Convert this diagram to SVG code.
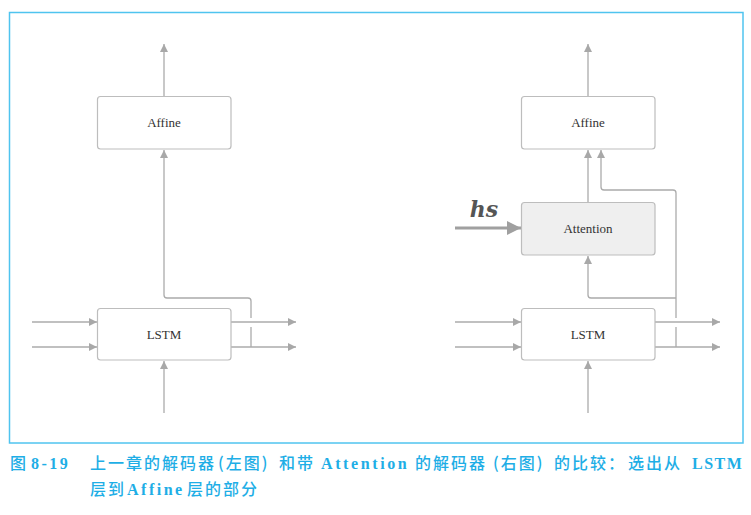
<svg xmlns="http://www.w3.org/2000/svg" width="751" height="515" viewBox="0 0 751 515">
<style>
.box{fill:#fff;stroke:#bdbdbd;stroke-width:1.2}
.att{fill:#efefef;stroke:#bdbdbd;stroke-width:1.2}
.lbl{font-family:'Liberation Serif','DejaVu Serif',serif;font-size:13px;fill:#333;text-anchor:middle}
.c{fill:none;stroke:#ababab;stroke-width:1.3}
.cap{fill:#1eaee6;font-size:16px}
.zh{font-family:'Noto Sans CJK SC','Noto Sans',sans-serif;font-weight:500;letter-spacing:2px}
.la{font-family:'Liberation Serif','DejaVu Serif',serif;font-weight:bold}
</style>
<defs>
<marker id="ar" viewBox="0 0 10 10" refX="10" refY="5" markerWidth="9" markerHeight="8" markerUnits="userSpaceOnUse" orient="auto">
<path d="M0,0 L10,5 L0,10 z" fill="#a8a8a8"/>
</marker>
<marker id="big" viewBox="0 0 10 10" refX="10" refY="5" markerWidth="16" markerHeight="14" markerUnits="userSpaceOnUse" orient="auto">
<path d="M0,0 L10,5 L0,10 z" fill="#a0a0a0"/>
</marker>
</defs>
<rect x="9.5" y="12.5" width="733.5" height="430.5" fill="#fff" stroke="#4fc4ef" stroke-width="1.5"/>

<g id="connectors">
<path class="c" d="M164,96 V44" marker-end="url(#ar)"/>
<path class="c" d="M251,347 V327"/>
<path class="c" d="M251,318 V301 Q251,298 248,298 H167 Q164,298 164,295 V150" marker-end="url(#ar)"/>
<path class="c" d="M32,322 H97" marker-end="url(#ar)"/>
<path class="c" d="M32,347 H97" marker-end="url(#ar)"/>
<path class="c" d="M231,322 H296" marker-end="url(#ar)"/>
<path class="c" d="M231,347 H296" marker-end="url(#ar)"/>
<path class="c" d="M164,413 V361" marker-end="url(#ar)"/>
<path class="c" d="M588,96 V44" marker-end="url(#ar)"/>
<path class="c" d="M588,202 V150" marker-end="url(#ar)"/>
<path class="c" d="M676,347 V327"/>
<path class="c" d="M676,318 V193 Q676,190 673,190 H604 Q601,190 601,187 V150" marker-end="url(#ar)"/>
<path class="c" d="M676,298 H591 Q588,298 588,295 V256" marker-end="url(#ar)"/>
<path class="c" d="M455,322 H521" marker-end="url(#ar)"/>
<path class="c" d="M455,347 H521" marker-end="url(#ar)"/>
<path class="c" d="M655,322 H720" marker-end="url(#ar)"/>
<path class="c" d="M655,347 H720" marker-end="url(#ar)"/>
<path class="c" d="M588,413 V361" marker-end="url(#ar)"/>
<path d="M455,228 H521" fill="none" stroke="#a0a0a0" stroke-width="3.2" marker-end="url(#big)"/>
</g>

<g id="left-affine">
<rect class="box" x="97.5" y="96.5" width="133.5" height="52.5" rx="3"/>
<text class="lbl" x="164" y="127">Affine</text>
</g>
<g id="left-lstm">
<rect class="box" x="97.5" y="308.5" width="133.5" height="51.5" rx="3"/>
<text class="lbl" x="164" y="339">LSTM</text>
</g>
<g id="right-affine">
<rect class="box" x="521.5" y="96.5" width="133.5" height="52.5" rx="3"/>
<text class="lbl" x="588" y="127">Affine</text>
</g>
<g id="right-attention">
<rect class="att" x="521.5" y="202.5" width="133.5" height="52.5" rx="3"/>
<text class="lbl" x="588" y="233">Attention</text>
</g>
<g id="right-lstm">
<rect class="box" x="521.5" y="308.5" width="133.5" height="51.5" rx="3"/>
<text class="lbl" x="588" y="339">LSTM</text>
</g>
<g id="hs-label">
<text x="484" y="217" font-family="'DejaVu Serif', 'Liberation Serif', serif" font-size="22" font-weight="bold" font-style="italic" fill="#555" text-anchor="middle">hs</text>
</g>

<g id="caption" class="cap">
<text y="469"><tspan class="zh" x="10">图</tspan><tspan class="la" x="31" letter-spacing="2.5">8-19</tspan></text>
<text y="469"><tspan class="zh" x="90">上一章的解码器</tspan><tspan class="zh" x="218" letter-spacing="4">(左图)</tspan><tspan class="zh" x="279">和带</tspan><tspan class="la" x="321" letter-spacing="2.6">Attention</tspan><tspan class="zh" x="415">的解码器</tspan><tspan class="zh" x="493" letter-spacing="4">(右图)</tspan><tspan class="zh" x="554">的比较：</tspan><tspan class="zh" x="628">选出从</tspan><tspan class="la" x="692" letter-spacing="1.5">LSTM</tspan></text>
<text y="495"><tspan class="zh" x="90" letter-spacing="0">层到</tspan><tspan class="la" x="127" letter-spacing="2.5">Affine</tspan><tspan class="zh" x="187" letter-spacing="0">层的部分</tspan></text>
</g>
</svg>
